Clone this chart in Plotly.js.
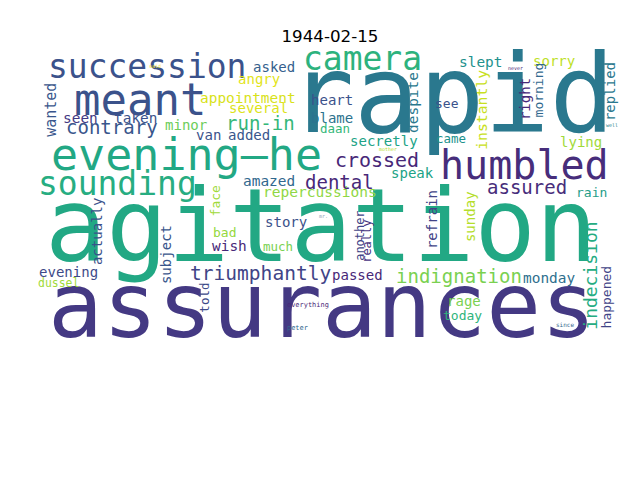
<!DOCTYPE html>
<html>
<head>
<meta charset="utf-8">
<script src="https://cdn.plot.ly/plotly-3.0.1.min.js"></script>
<style>
  html, body { margin: 0; padding: 0; background: #fff; }
  #chart { width: 640px; height: 480px; }
</style>
</head>
<body>
<div id="chart"></div>
<script>
const chartTitle = '1944-02-15';

// Word frequencies for the day, relative weights read from the cloud.
const words = [
    'rapid', 'agitation', 'assurances', 'evening\u2014he', 'meant', 'humbled', 'succession', 'camera',
    'sounding', 'triumphantly', 'crossed', 'dental', 'assured', 'indignation', 'run-in', 'contrary',
    'indecision', 'wanted', 'instantly', 'repercussions', 'appointment', 'seen', 'taken', 'amazed',
    'despite', 'slept', 'monday', 'wish', 'several', 'angry', 'asked', 'minor',
    'van', 'added', 'heart', 'blame', 'speak', 'secretly', 'sorry', 'right',
    'lying', 'replied', 'refrain', 'sunday', 'passed', 'rage', 'story', 'actually',
    'subject', 'evening', 'see', 'morning', 'rain', 'happened', 'today', 'face',
    'bad', 'daan', 'came', 'much', 'told', 'another', 'really', 'dussel',
    'everything', 'peter', 'since', 'said', 'mother', 'never', 'well', 'mr.'
];
const weights = [
    1.04, 0.98, 0.875, 0.433, 0.423, 0.385, 0.317, 0.317,
    0.317, 0.188, 0.192, 0.183, 0.183, 0.183, 0.183, 0.183,
    0.173, 0.144, 0.142, 0.14, 0.139, 0.139, 0.139, 0.139,
    0.139, 0.139, 0.139, 0.139, 0.135, 0.135, 0.135, 0.135,
    0.135, 0.135, 0.135, 0.135, 0.135, 0.135, 0.135, 0.135,
    0.135, 0.135, 0.135, 0.135, 0.135, 0.135, 0.135, 0.135,
    0.135, 0.135, 0.125, 0.125, 0.125, 0.125, 0.125, 0.125,
    0.125, 0.12, 0.12, 0.12, 0.12, 0.115, 0.115, 0.11,
    0.067, 0.067, 0.058, 0.048, 0.048, 0.048, 0.048, 0.048
];

// Placement from the cloud layout, in page pixels.
// Horizontal words: centre x and baseline y. Vertical words: baseline x and centre y.
const wordX = [
    452, 321, 322, 186, 140, 524, 147, 362,
    117, 260, 377, 339, 527, 459, 260, 112,
    596, 56, 486, 320, 248, 80, 135, 269,
    418, 480, 549, 229, 258, 259, 274, 186,
    208, 249, 332, 332, 412, 384, 554, 530,
    581, 615, 437, 475, 357, 464, 286, 102,
    171, 68, 447, 543, 591, 611, 462, 220,
    224, 335, 451, 278, 208, 364, 371, 58,
    308, 297, 565, 155, 388, 515, 612, 323
];
const wordY = [
    133, 261, 337, 170, 115, 179, 78, 70,
    195, 280, 167, 189, 194, 283, 130, 134,
    276, 110, 110, 197, 103, 123, 123, 186,
    102, 67, 283, 251, 113, 84, 72, 130,
    140, 140, 105, 123, 178, 146, 66, 99,
    147, 92, 220, 217, 280, 306, 227, 231,
    255, 277, 108, 90, 197, 297, 320, 201,
    237, 133, 143, 251, 298, 236, 241, 287,
    307, 330, 327, 68, 151, 70, 127, 218
];
const vertical = [
    0, 0, 0, 0, 0, 0, 0, 0,
    0, 0, 0, 0, 0, 0, 0, 0,
    1, 1, 1, 0, 0, 0, 0, 0,
    1, 0, 0, 0, 0, 0, 0, 0,
    0, 0, 0, 0, 0, 0, 0, 1,
    0, 1, 1, 1, 0, 0, 0, 1,
    1, 0, 0, 1, 0, 1, 0, 1,
    0, 0, 0, 0, 1, 1, 1, 0,
    0, 0, 0, 0, 0, 0, 0, 0
];
const wordColors = [
    '#2a788e', '#22a884', '#443983', '#22a884', '#3b528b', '#472d7b', '#3b528b', '#2db27d',
    '#27ad81', '#414487', '#482878', '#482878', '#472d7b', '#7ad151', '#35b779', '#39568c',
    '#25ac82', '#39568c', '#c8e020', '#8fd744', '#d8e219', '#443983', '#3b528b', '#31688e',
    '#2a788e', '#21918c', '#2e6f8e', '#482878', '#dde318', '#e2e418', '#355f8d', '#6ccd5a',
    '#3b528b', '#39568c', '#3b528b', '#2c728e', '#20a386', '#20a386', '#bddf26', '#482878',
    '#a0da39', '#2a788e', '#414487', '#b5de2b', '#482878', '#7ad151', '#3b528b', '#3b528b',
    '#39568c', '#3e4a89', '#3b528b', '#31688e', '#1f9e89', '#414487', '#2fb47c', '#a0da39',
    '#95d840', '#35b779', '#21918c', '#7ad151', '#3e4a89', '#414487', '#46327e', '#a0da39',
    '#482878', '#31688e', '#31688e', '#fde725', '#b5de2b', '#482878', '#26828e', '#8fa5b8'
];

const BASE_FONT = 104;         // font size for weight 1, px
const CENTRE_SHIFT = 0.35;     // baseline to middle of the text box, in em

// One annotation per word, placed through the hidden x/y axes.
function buildWords() {
    return words.map((word, i) => {
        const size = weights[i] * BASE_FONT;
        const isVertical = vertical[i] === 1;
        return {
            text: word,
            xref: 'x', yref: 'y',
            x: isVertical ? wordX[i] - CENTRE_SHIFT * size : wordX[i],
            y: isVertical ? wordY[i] : wordY[i] - CENTRE_SHIFT * size,
            xanchor: 'center', yanchor: 'middle',
            textangle: isVertical ? -90 : 0,
            showarrow: false,
            borderpad: 0,
            font: { family: 'DejaVu Sans Mono', size: size, color: wordColors[i] }
        };
    });
}

const hiddenAxis = (range) => ({
    range: range,
    visible: false,
    showgrid: false,
    zeroline: false,
    fixedrange: true
});

const layout = {
    width: 640,
    height: 480,
    margin: { l: 0, r: 0, t: 0, b: 0 },
    paper_bgcolor: '#fff',
    plot_bgcolor: '#fff',
    showlegend: false,
    title: {
        text: chartTitle,
        font: { family: 'DejaVu Sans', size: 16.7, color: '#000' },
        x: 330 / 640, xanchor: 'center',
        y: 1 - 36 / 480, yanchor: 'middle', yref: 'container'
    },
    xaxis: hiddenAxis([0, 640]),
    yaxis: hiddenAxis([480, 0]),
    annotations: buildWords()
};

Plotly.newPlot('chart', [{ x: [], y: [], type: 'scatter', mode: 'markers' }], layout, { staticPlot: true });
</script>
</body>
</html>
